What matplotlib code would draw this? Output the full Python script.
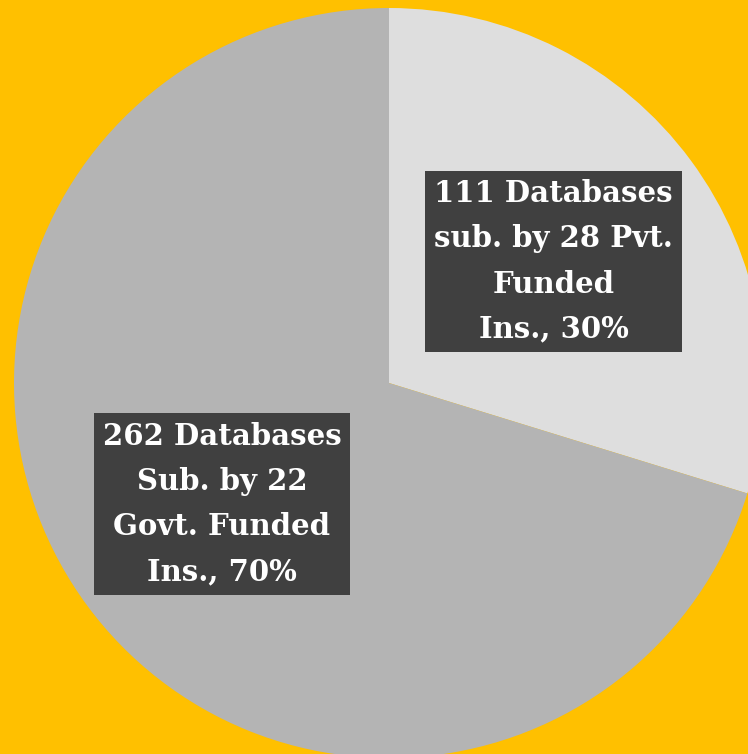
import matplotlib
matplotlib.use("Agg")
import matplotlib.pyplot as plt

labels = ["111 Databases\nsub. by 28 Pvt.\nFunded\nIns., 30%",
          "262 Databases\nSub. by 22\nGovt. Funded\nIns., 70%"]
values = [111, 262]
colors = ["#DEDEDE", "#B4B4B4"]

W, H = 748, 754
fig = plt.figure(figsize=(W / 100, H / 100), dpi=100, facecolor="#FFC000")
ax = fig.add_axes([0, 0, 1, 1])
ax.set_facecolor("#FFC000")

cx, cy, r = 389, H - 383, 375
ax.pie(values, colors=colors, startangle=90, counterclock=False,
       center=(cx, cy), radius=r, frame=True,
       wedgeprops=dict(edgecolor="none"))
ax.set_xlim(0, W)
ax.set_ylim(0, H)
ax.set_aspect("equal")
ax.axis("off")

label_pos = [(553.5, H - 261.5), (222, H - 504)]
for (x, y), t in zip(label_pos, labels):
    ax.text(x, y, t, ha="center", va="center", color="white",
            fontsize=21, fontweight="bold", family="DejaVu Serif",
            linespacing=1.7,
            bbox=dict(boxstyle="square,pad=0.3", facecolor="#404040",
                      edgecolor="none"))

fig.savefig("out.png", dpi=100, facecolor="#FFC000")
